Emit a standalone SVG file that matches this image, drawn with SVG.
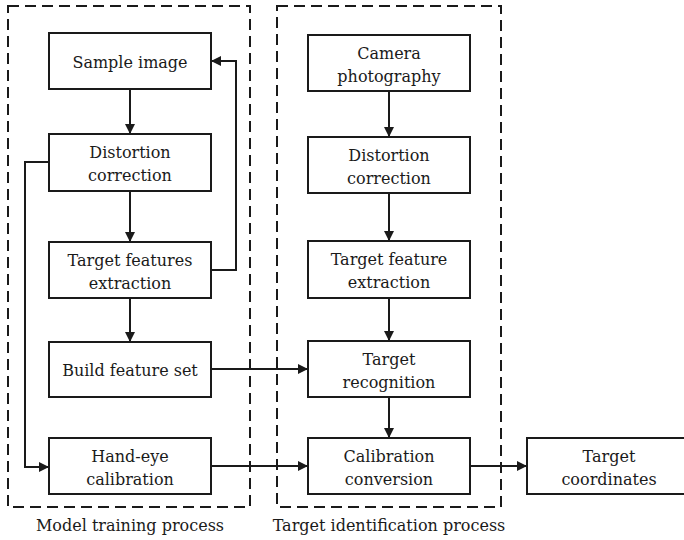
<svg xmlns="http://www.w3.org/2000/svg" width="684" height="540" viewBox="0 0 684 540">
  <style>
    .node rect { fill: #fff; stroke: #1a1a1a; stroke-width: 2; }
    .node text, .caption { font-family: "DejaVu Serif", "Liberation Serif", serif; font-size: 16px; fill: #1a1a1a; text-anchor: middle; }
    .frame { fill: none; stroke: #1a1a1a; stroke-width: 2; stroke-dasharray: 11 6; }
    .edge { fill: none; stroke: #1a1a1a; stroke-width: 2; marker-end: url(#arrow); }
  </style>
  <defs>
    <marker id="arrow" viewBox="0 0 10 10" refX="10" refY="5" markerWidth="5" markerHeight="5" orient="auto" markerUnits="strokeWidth">
      <path d="M0,0 L10,5 L0,10 z" fill="#1a1a1a"/>
    </marker>
  </defs>
  <rect width="684" height="540" fill="#fff"/>

  <!-- process frames -->
  <g id="frames">
    <rect class="frame" x="8" y="6" width="242" height="501"/>
    <rect class="frame" x="277" y="6" width="224" height="501"/>
    <text class="caption" x="130" y="531">Model training process</text>
    <text class="caption" x="389" y="531">Target identification process</text>
  </g>

  <!-- connectors -->
  <g id="connectors">
    <path class="edge" d="M130,89 V134"/>
    <path class="edge" d="M130,191 V242"/>
    <path class="edge" d="M130,298 V342"/>
    <path class="edge" d="M211,270 H236 V61 H211"/>
    <path class="edge" d="M49,162 H25 V467 H49"/>
    <path class="edge" d="M211,369 H308"/>
    <path class="edge" d="M211,466 H308"/>
    <path class="edge" d="M389,91 V137"/>
    <path class="edge" d="M389,193 V241"/>
    <path class="edge" d="M389,298 V341"/>
    <path class="edge" d="M389,397 V438"/>
    <path class="edge" d="M470,466 H527"/>
  </g>

  <!-- model training nodes -->
  <g id="sample-image" class="node">
    <rect x="49" y="33" width="162" height="56"/>
    <text x="130" y="68">Sample image</text>
  </g>
  <g id="distortion-correction-a" class="node">
    <rect x="49" y="134" width="162" height="57"/>
    <text x="130" y="158">Distortion</text>
    <text x="130" y="181">correction</text>
  </g>
  <g id="target-features-extraction" class="node">
    <rect x="49" y="242" width="162" height="56"/>
    <text x="130" y="266">Target features</text>
    <text x="130" y="289">extraction</text>
  </g>
  <g id="build-feature-set" class="node">
    <rect x="49" y="342" width="162" height="55"/>
    <text x="130" y="376">Build feature set</text>
  </g>
  <g id="hand-eye-calibration" class="node">
    <rect x="49" y="438" width="162" height="56"/>
    <text x="130" y="462">Hand-eye</text>
    <text x="130" y="485">calibration</text>
  </g>

  <!-- target identification nodes -->
  <g id="camera-photography" class="node">
    <rect x="308" y="35" width="162" height="56"/>
    <text x="389" y="59">Camera</text>
    <text x="389" y="82">photography</text>
  </g>
  <g id="distortion-correction-b" class="node">
    <rect x="308" y="137" width="162" height="56"/>
    <text x="389" y="161">Distortion</text>
    <text x="389" y="184">correction</text>
  </g>
  <g id="target-feature-extraction" class="node">
    <rect x="308" y="241" width="162" height="57"/>
    <text x="389" y="265">Target feature</text>
    <text x="389" y="288">extraction</text>
  </g>
  <g id="target-recognition" class="node">
    <rect x="308" y="341" width="162" height="56"/>
    <text x="389" y="365">Target</text>
    <text x="389" y="388">recognition</text>
  </g>
  <g id="calibration-conversion" class="node">
    <rect x="308" y="438" width="162" height="56"/>
    <text x="389" y="462">Calibration</text>
    <text x="389" y="485">conversion</text>
  </g>
  <g id="target-coordinates" class="node">
    <rect x="527" y="438" width="170" height="56"/>
    <text x="609" y="462">Target</text>
    <text x="609" y="485">coordinates</text>
  </g>
</svg>
